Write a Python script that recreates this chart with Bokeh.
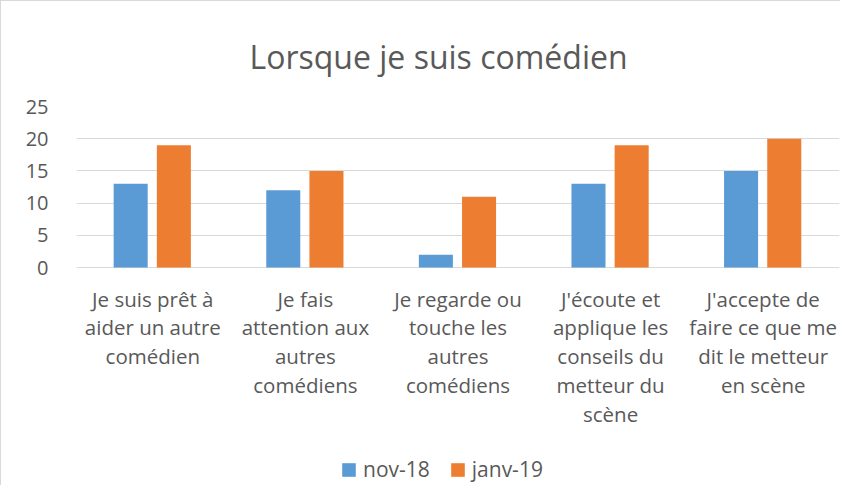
from bokeh.plotting import figure
from bokeh.models import (ColumnDataSource, Range1d, FactorRange, Legend, LegendItem,
                          FixedTicker)
from bokeh.core.properties import value
from bokeh.transform import dodge
from bokeh.embed import file_html
from bokeh.resources import INLINE

title_text = "Lorsque je suis comédien"
categories = [
    "Je suis prêt à\naider un autre\ncomédien",
    "Je fais\nattention aux\nautres\ncomédiens",
    "Je regarde ou\ntouche les\nautres\ncomédiens",
    "J'écoute et\napplique les\nconseils du\nmetteur du\nscène",
    "J'accepte de\nfaire ce que me\ndit le metteur\nen scène",
]
nov18 = [13, 12, 2, 13, 15]
janv19 = [19, 15, 11, 19, 20]
series_names = ["nov-18", "janv-19"]
y_ticks = [0, 5, 10, 15, 20, 25]

FONT = "Open Sans"
TXT = "#595959"
BLUE = "#5B9BD5"
ORANGE = "#ED7D31"
GRID = "#D9D9D9"

source = ColumnDataSource(dict(cat=categories, nov=nov18, janv=janv19,
                               base=[0] * len(categories)))

# the lower part of the frame (below 0) holds the category labels and legend
p = figure(
    width=840, height=485,
    x_range=FactorRange(factors=categories, range_padding=0),
    y_range=Range1d(-34, 25),
    output_backend="svg", toolbar_location=None,
    min_border_left=75, min_border_right=2, min_border_top=105, min_border_bottom=0,
    styles={"border-left": "1px solid #D9D9D9", "border-top": "1px solid #D9D9D9"},
)
p.outline_line_color = None

p.title.text = title_text
p.title.align = "left"
p.title.offset = 173
p.title.text_font = FONT
p.title.text_font_size = "32px"
p.title.text_font_style = "normal"
p.title.text_color = TXT
p.title.standoff = 58

r1 = p.vbar(x=dodge("cat", -0.145, range=p.x_range), top="nov", width=0.223, source=source,
            fill_color=BLUE, line_color=None)
r2 = p.vbar(x=dodge("cat", 0.138, range=p.x_range), top="janv", width=0.223, source=source,
            fill_color=ORANGE, line_color=None)

p.yaxis.ticker = FixedTicker(ticks=y_ticks)
p.yaxis.axis_line_color = None
p.yaxis.major_tick_line_color = None
p.yaxis.minor_tick_line_color = None
p.yaxis.major_label_text_font = FONT
p.yaxis.major_label_text_font_size = "20px"
p.yaxis.major_label_text_color = TXT
p.yaxis.major_label_standoff = 22

p.xaxis.visible = False
p.xgrid.grid_line_color = None
p.ygrid.grid_line_color = GRID
p.ygrid.grid_line_width = 1

p.text(
    x="cat", y="base", text="cat", source=source,
    text_align="center", text_baseline="top", y_offset=17,
    text_font=value(FONT), text_font_size="20.5px", text_color=TXT, text_line_height=1.03,
)

legend = Legend(
    items=[LegendItem(label=series_names[0], renderers=[r1]),
           LegendItem(label=series_names[1], renderers=[r2])],
    orientation="horizontal", location=(264, 3),
    border_line_color=None, background_fill_alpha=0,
    label_text_font=FONT, label_text_font_size="21px", label_text_color=TXT,
    glyph_width=17, glyph_height=17, label_standoff=6, spacing=19,
    margin=0, padding=2,
)
p.add_layout(legend, "center")

open("out.html", "w").write(file_html(p, INLINE))
